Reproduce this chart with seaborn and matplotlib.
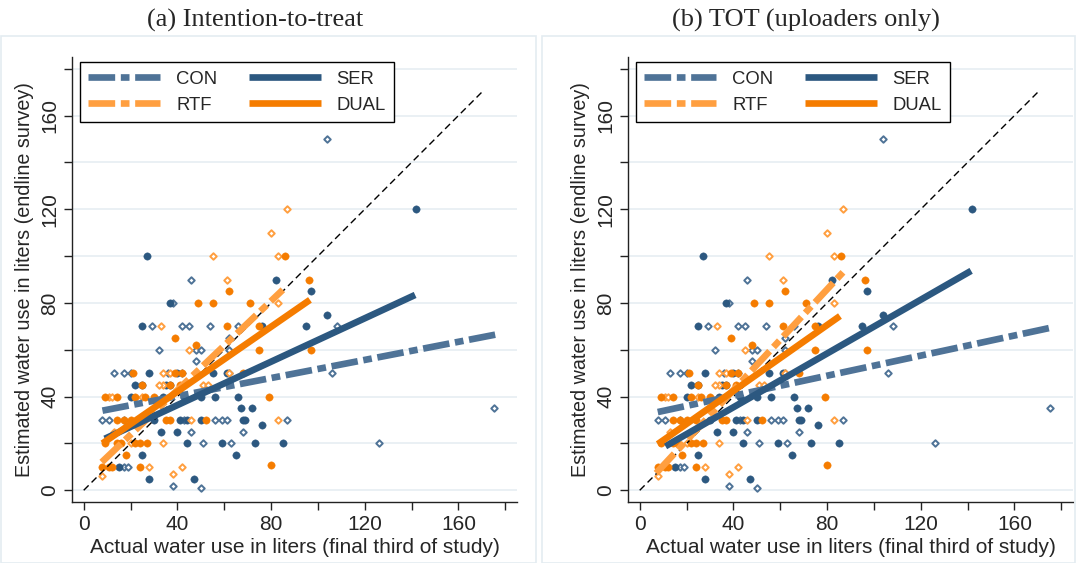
import numpy as np
import pandas as pd
import matplotlib
matplotlib.use("Agg")
import matplotlib.pyplot as plt
import seaborn as sns
from matplotlib.lines import Line2D
from matplotlib.patches import Rectangle
from matplotlib.ticker import MultipleLocator

# ---------------- data ----------------
groups = ["CON", "RTF", "SER", "DUAL"]

con_x = [46, 38, 29, 42, 45, 54, 66, 62, 32, 48, 50, 62, 48, 13, 17, 20, 36, 42, 62,
         8, 11, 17, 43, 56, 59, 61, 87, 46, 68, 51, 63, 17, 19, 38, 50, 104, 108, 106, 175, 126]
con_y = [90, 80, 70, 70, 70, 70, 70, 65, 60, 60, 60, 60, 55, 50, 50, 50, 50, 50, 50,
         30, 30, 30, 30, 30, 30, 30, 30, 25, 25, 20, 20, 10, 10, 2, 1, 150, 70, 50, 35, 20]

ser_x = [27, 37, 25, 82, 76, 95, 97, 104, 142, 55, 61, 28, 40, 50, 56, 66, 20, 34, 43, 67, 72,
         22, 25, 37, 35, 50, 69, 68, 30, 41, 44, 76, 33, 40, 59, 73, 85, 44, 65, 25, 15, 28, 47]
ser_y = [100, 80, 70, 90, 70, 70, 85, 75, 120, 50, 50, 50, 50, 40, 40, 40, 40, 40, 40, 35, 35,
         45, 45, 45, 45, 30, 30, 30, 30, 30, 30, 28, 25, 25, 20, 20, 20, 20, 15, 15, 10, 5, 5]

rtf_x = [87, 80, 55, 83, 61, 83, 33, 45, 62, 34, 37, 51, 53, 34, 32, 11, 12, 25, 46, 83,
         13, 20, 34, 28, 42, 8, 38]
rtf_y = [120, 110, 100, 100, 90, 80, 70, 60, 50, 50, 50, 45, 45, 45, 45, 40, 40, 40, 30, 30,
         25, 20, 20, 10, 10, 6, 7]

dual_x = [86, 96, 62, 49, 55, 71, 61, 75, 39, 48, 75, 97, 21, 42, 68, 39, 25, 41, 37, 9, 14,
          22, 30, 26, 79, 14, 17, 20, 24, 35, 37, 52, 9, 14, 16, 22, 27, 24, 18, 80, 8, 12, 24, 11]
dual_y = [100, 90, 85, 80, 80, 80, 70, 70, 65, 62, 60, 60, 50, 50, 50, 50, 45, 45, 45, 40, 40,
          40, 40, 40, 40, 30, 30, 30, 30, 30, 30, 30, 20, 20, 20, 20, 20, 20, 15, 11, 10, 10, 10, 10]

# fitted lines (endpoints), order = groups
itt_x0 = [8, 7.7, 9, 8]
itt_y0 = [34, 12, 22, 20]
itt_x1 = [176, 85, 141.5, 96.6]
itt_y1 = [66.5, 85.6, 83.4, 81.3]

tot_x0 = [7.7, 7, 11, 7.7]
tot_y0 = [33.4, 7.3, 18.8, 19.7]
tot_x1 = [175, 87, 141.5, 85.5]
tot_y1 = [69.3, 93.3, 93.7, 74.4]

diag = [0, 170]

titles = ["(a) Intention-to-treat", "(b) TOT (uploaders only)"]
xlabel = "Actual water use in liters (final third of study)"
ylabel = "Estimated water use in liters (endline survey)"
ticks = [0, 40, 80, 120, 160]

# ---------------- style ----------------
colors = {"CON": "#4f7397", "RTF": "#ff9f40", "SER": "#2c5880", "DUAL": "#f57c00"}
hollow = {"CON": True, "RTF": True, "SER": False, "DUAL": False}
dash_dot = (4.0, 0.85, 1.3, 0.85)
LW = 4.8

sns.set_theme(style="white")
plt.rcParams["font.family"] = ["Liberation Sans", "DejaVu Sans"]

pts = pd.concat([
    pd.DataFrame({"x": con_x, "y": con_y, "g": "CON"}),
    pd.DataFrame({"x": ser_x, "y": ser_y, "g": "SER"}),
    pd.DataFrame({"x": rtf_x, "y": rtf_y, "g": "RTF"}),
    pd.DataFrame({"x": dual_x, "y": dual_y, "g": "DUAL"}),
], ignore_index=True)


def fit_frame(x0, y0, x1, y1):
    rows = []
    for g, a, b, c, d in zip(groups, x0, y0, x1, y1):
        rows.append({"x": a, "y": b, "g": g})
        rows.append({"x": c, "y": d, "g": g})
    return pd.DataFrame(rows)


fits = [fit_frame(itt_x0, itt_y0, itt_x1, itt_y1), fit_frame(tot_x0, tot_y0, tot_x1, tot_y1)]

W, H = 1076, 563
fig = plt.figure(figsize=(W / 100, H / 100), dpi=100)

# panel frames
for (fx0, fx1) in [(1, 536), (542, 1075)]:
    fig.patches.append(Rectangle((fx0 / W, 0.0), (fx1 - fx0) / W, (H - 36) / H,
                                 transform=fig.transFigure, fill=False,
                                 edgecolor="#e4ecf1", linewidth=1.2, zorder=0))

ax_lefts = [72, 628]
title_x = [255, 806]
for i in range(2):
    ax = fig.add_axes([ax_lefts[i] / W, (H - 502) / H, 445 / W, 445 / H])
    ax.set_xlim(-5, 185)
    ax.set_ylim(-5, 185)
    for yy in range(0, 181, 20):
        ax.axhline(yy, color="#eaf0f4", lw=1.4, zorder=0)

    for g in ["CON", "SER", "RTF", "DUAL"]:
        sub = pts[pts.g == g]
        if hollow[g]:
            sns.scatterplot(data=sub, x="x", y="y", ax=ax, marker="D", s=11,
                            facecolor="white", edgecolor=colors[g], linewidth=1.4,
                            zorder=2, legend=False)
        else:
            sns.scatterplot(data=sub, x="x", y="y", ax=ax, marker="o", s=28,
                            color=colors[g], edgecolor=colors[g], linewidth=0.3,
                            zorder=2, legend=False)

    ax.plot(diag, diag, color="black", lw=1.0, ls=(0, (5, 3)), zorder=3)

    sns.lineplot(data=fits[i], x="x", y="y", hue="g", style="g", ax=ax,
                 palette=colors, dashes={"CON": dash_dot, "RTF": dash_dot,
                                         "SER": "", "DUAL": ""},
                 lw=LW, legend=False, zorder=4, estimator=None, sort=False)
    for ln in ax.get_lines():
        ln.set_solid_capstyle("butt")
        ln.set_dash_capstyle("butt")

    handles = [Line2D([0], [0], color=colors[g], lw=LW,
                      dashes=dash_dot if g in ("CON", "RTF") else (None, None),
                      solid_capstyle="butt", dash_capstyle="butt") for g in groups]
    leg = ax.legend(handles, groups, loc="upper left", bbox_to_anchor=(0.018, 0.988),
                    ncol=2, fontsize=13.3, handlelength=3.9, handletextpad=0.85,
                    columnspacing=1.7, labelspacing=0.5, borderpad=0.45,
                    frameon=True, fancybox=False, framealpha=1, borderaxespad=0)
    leg.get_frame().set_edgecolor("black")
    leg.get_frame().set_linewidth(1.0)
    leg.set_zorder(6)

    sns.despine(ax=ax)
    for sp in ["left", "bottom"]:
        ax.spines[sp].set_color("#222222")
        ax.spines[sp].set_linewidth(1.0)
    ax.set_xticks(ticks)
    ax.set_yticks(ticks)
    ax.xaxis.set_minor_locator(MultipleLocator(20))
    ax.yaxis.set_minor_locator(MultipleLocator(20))
    ax.tick_params(which="both", direction="out", length=6, width=1.0, color="#222222",
                   left=True, bottom=True, labelsize=15, pad=3)
    for lab in ax.get_yticklabels():
        lab.set_rotation(90)
        lab.set_va("center")
    ax.set_xlabel(xlabel, fontsize=15, labelpad=3)
    ax.set_ylabel(ylabel, fontsize=14.2, labelpad=5)
    fig.text(title_x[i] / W, 1 - 20 / H, titles[i], ha="center", va="center",
             fontsize=19, family=["Liberation Serif", "DejaVu Serif"])

fig.savefig("out.png", dpi=100)
